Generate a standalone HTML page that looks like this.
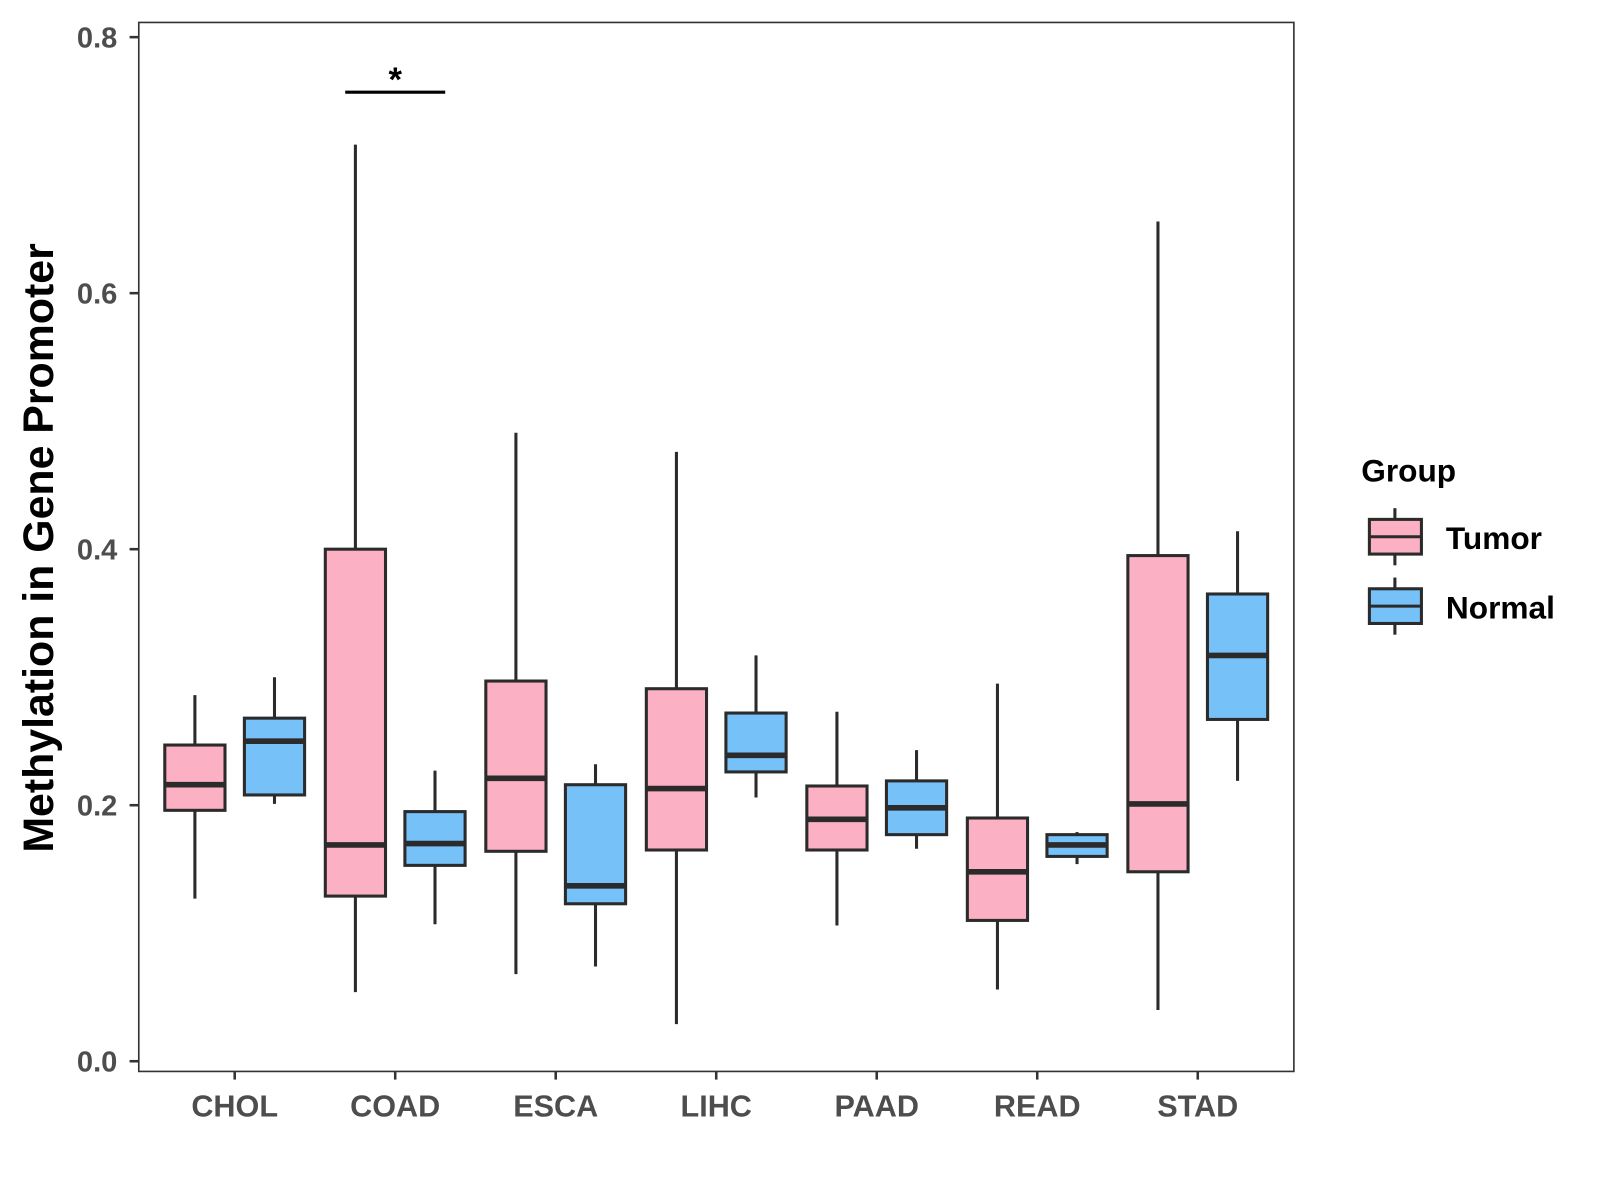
<!DOCTYPE html>
<html><head><meta charset="utf-8"><style>
html,body{margin:0;padding:0;background:#fff}
svg{display:block}
text{font-family:"Liberation Sans",Arial,sans-serif;font-weight:bold}
</style></head><body>
<svg id="chart" width="1600" height="1200" viewBox="0 0 1568 1176" xmlns="http://www.w3.org/2000/svg">
<rect x="0" y="0" width="1568" height="1176" fill="#fff"/>
<g id="plot"></g>
<rect x="136" y="22" width="1132" height="1028" fill="none" stroke="#333" stroke-width="1.6"/>
<text transform="translate(52,537) rotate(-90)" text-anchor="middle" font-size="42" fill="#000">Methylation in Gene Promoter</text>
<g>
<text x="1334" y="472" font-size="31" fill="#000">Group</text>
<g>
<line x1="1367" y1="498" x2="1367" y2="554" stroke="#2b2b2b" stroke-width="3"/>
<rect x="1342" y="509" width="51" height="34" fill="#fcb0c3" stroke="#2b2b2b" stroke-width="3"/>
<line x1="1342" y1="526" x2="1393" y2="526" stroke="#2b2b2b" stroke-width="3"/>
<text x="1417" y="538" font-size="31" fill="#000">Tumor</text>
</g>
<g>
<line x1="1367" y1="566" x2="1367" y2="622" stroke="#2b2b2b" stroke-width="3"/>
<rect x="1342" y="577" width="51" height="34" fill="#76c1f8" stroke="#2b2b2b" stroke-width="3"/>
<line x1="1342" y1="594" x2="1393" y2="594" stroke="#2b2b2b" stroke-width="3"/>
<text x="1417" y="606" font-size="31" fill="#000">Normal</text>
</g>
</g>
</svg>
<script>
const categories = ["CHOL","COAD","ESCA","LIHC","PAAD","READ","STAD"];
const yTicks = [0.0, 0.2, 0.4, 0.6, 0.8];
const yTickLabels = ["0.0","0.2","0.4","0.6","0.8"];
// [whiskerLow, q1, median, q3, whiskerHigh]
const tumorStats = [
  [0.127,0.196,0.216,0.247,0.286],
  [0.054,0.129,0.169,0.400,0.716],
  [0.068,0.164,0.221,0.297,0.491],
  [0.029,0.165,0.213,0.291,0.476],
  [0.106,0.165,0.189,0.215,0.273],
  [0.056,0.110,0.148,0.190,0.295],
  [0.040,0.148,0.201,0.395,0.656]
];
const normalStats = [
  [0.201,0.208,0.250,0.268,0.300],
  [0.107,0.153,0.170,0.195,0.227],
  [0.074,0.123,0.137,0.216,0.232],
  [0.206,0.226,0.239,0.272,0.317],
  [0.166,0.177,0.198,0.219,0.243],
  [0.154,0.160,0.169,0.177,0.179],
  [0.219,0.267,0.317,0.365,0.414]
];
const sigCategory = "COAD";
const sigValue = 0.757;

const NS = "http://www.w3.org/2000/svg";
const g = document.getElementById("plot");
function y(v){ return 1040 - v * 1254.5; }
function x(i){ return 230 + i * 157.3; }
function el(tag, attrs, parent){
  const e = document.createElementNS(NS, tag);
  for (const k in attrs) e.setAttribute(k, attrs[k]);
  (parent || g).appendChild(e);
  return e;
}
yTicks.forEach((t, i) => {
  const tk = el("line", {x1:127, x2:136, y1:y(t), y2:y(t), stroke:"#333", "stroke-width":2.5});
  
  
  const lb = el("text", {x:115, y:y(t)+10, "text-anchor":"end", "font-size":28.5, fill:"#4d4d4d"});
  lb.textContent = yTickLabels[i];
  
  
});
categories.forEach((c, i) => {
  const tk = el("line", {x1:x(i), x2:x(i), y1:1050, y2:1058, stroke:"#333", "stroke-width":2.5});
  
  
  const lb = el("text", {x:x(i), y:1094, "text-anchor":"middle", "font-size":30, fill:"#4d4d4d"});
  lb.textContent = c;
  
  
});
function box(cx, s, fill, name){
  const bg = el("g", {});
  
  
  const hw = 29.5;
  el("line", {x1:cx, x2:cx, y1:y(s[0]), y2:y(s[4]), stroke:"#2b2b2b", "stroke-width":3}, bg);
  el("rect", {x:cx-hw, y:y(s[3]), width:2*hw, height:y(s[1])-y(s[3]), fill:fill, stroke:"#2b2b2b", "stroke-width":3}, bg);
  el("line", {x1:cx-hw, x2:cx+hw, y1:y(s[2]), y2:y(s[2]), stroke:"#2b2b2b", "stroke-width":5.5}, bg);
}
categories.forEach((c, i) => {
  box(x(i) - 39, tumorStats[i], "#fcb0c3", "box-tumor-" + c.toLowerCase());
  box(x(i) + 39, normalStats[i], "#76c1f8", "box-normal-" + c.toLowerCase());
});
const si = categories.indexOf(sigCategory);
const sl = el("line", {x1:x(si)-49, x2:x(si)+49, y1:y(sigValue), y2:y(sigValue), stroke:"#000", "stroke-width":3});


const st = el("text", {x:x(si), y:y(sigValue)-1, "text-anchor":"middle", "font-size":34, fill:"#000"});
st.textContent = "*";


</script>
</body></html>
